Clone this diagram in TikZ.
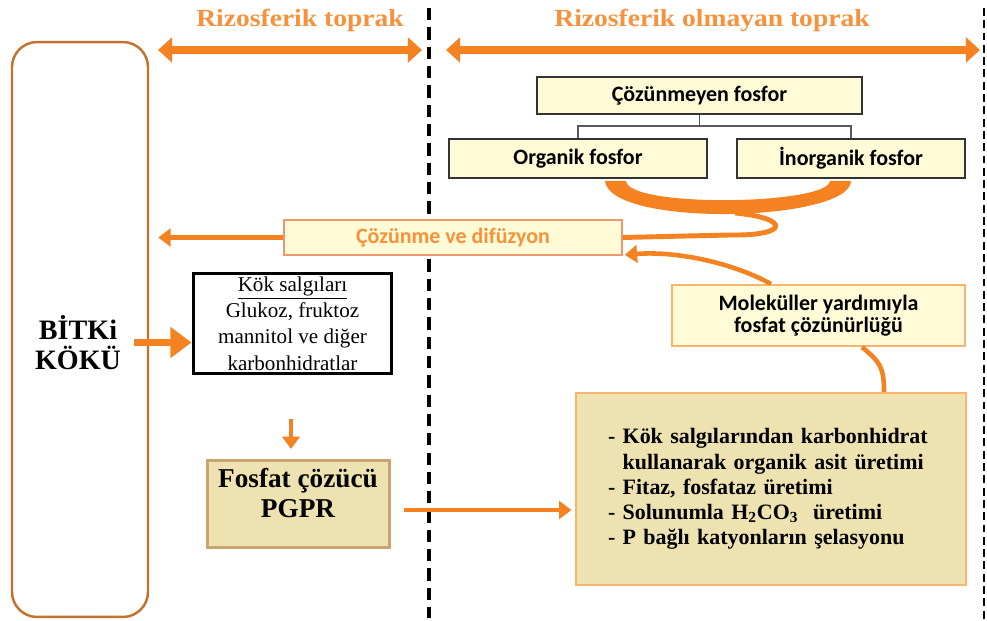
\documentclass[tikz,border=0pt]{standalone}
\usepackage{fontspec}
\usepackage{graphicx}
\setmainfont{Liberation Serif}
\newfontfamily\calib{Carlito}
\usetikzlibrary{arrows.meta,calc}

\definecolor{orng}{RGB}{245,130,32}
\definecolor{orngtxt}{RGB}{247,145,60}
\definecolor{paleyel}{RGB}{255,251,215}
\definecolor{khaki}{RGB}{238,226,176}
\definecolor{rootbr}{RGB}{196,114,44}
\definecolor{salmon}{RGB}{238,150,110}
\definecolor{lightor}{RGB}{250,180,110}
\definecolor{tanbr}{RGB}{200,165,110}

\tikzset{
	box/.style={draw, inner sep=0pt, align=center},
	fosbox/.style={box, draw=black!80, line width=1.1pt, fill=paleyel, font=\calib\bfseries\fontsize{12.5}{13}\selectfont},
	hdrtxt/.style={text=orngtxt, font=\bfseries\fontsize{14}{16}\selectfont, anchor=base},
	hdrarr/.style={orng, line width=5pt, {Triangle[length=8pt,width=14pt]}-{Triangle[length=8pt,width=14pt]}},
	midline/.style={line width=1.8pt, dash pattern=on 7pt off 4pt},
	edgeline/.style={line width=1.3pt, dash pattern=on 4.5pt off 2.5pt},
	orarr/.style={orng, line width=2.8pt, -{Triangle[length=7pt,width=10pt]}},
	bigarr/.style={orng, line width=4.5pt, -{Triangle[length=12pt,width=17pt]}}
}

\begin{document}
\begin{tikzpicture}[x=0.02cm, y=-0.02cm]
	\useasboundingbox (0,0) rectangle (987,621);

	\draw[midline] (429,8) -- (429,618);
	\draw[edgeline] (984,8) -- (984,621);

	\node[hdrtxt] (rizo) at (300,27) {\scalebox{1.12}[1]{Rizosferik toprak}};
	\node[hdrtxt] (nonrizo) at (712,27) {\scalebox{1.12}[1]{Rizosferik olmayan toprak}};
	\coordinate (rzL) at (158,50);
	\coordinate (rzR) at (422,50);
	\coordinate (nrL) at (446,50);
	\coordinate (nrR) at (980,50);
	\draw[hdrarr] (rzL) -- (rzR);
	\draw[hdrarr] (nrL) -- (nrR);

	% root side
	\node[box, draw=rootbr, line width=1.4pt, rounded corners=0.5cm, minimum width=2.72cm, minimum height=11.5cm] (root) at (80,329.5) {};
	\node[align=center, font=\bfseries\fontsize{16}{17}\selectfont] (rootlbl) at (78,343) {BİTKi\\KÖKÜ};

	\node[box, draw=black, line width=1.7pt, fill=white, minimum width=3.98cm, minimum height=2.02cm, font=\fontsize{12}{15}\selectfont] (kok) at (292.5,323.5)
		{\underline{Kök salgıları}\\Glukoz, fruktoz\\mannitol ve diğer\\karbonhidratlar};

	\node[box, draw=tanbr, line width=1.7pt, fill=khaki, minimum width=3.66cm, minimum height=1.76cm] (pgpr) at (298.5,504) {};
	\node[align=center, font=\bfseries\fontsize{15.5}{17}\selectfont] (pgprtxt) at (298,493) {Fosfat çözücü\\PGPR};

	% phosphorus side
	\node[fosbox, minimum width=6.5cm, minimum height=0.74cm] (cozunmeyen) at (699.5,95.5) {Çözünmeyen fosfor};
	\node[fosbox, minimum width=5.16cm, minimum height=0.78cm] (organik) at (578,158.5) {Organik fosfor};
	\node[fosbox, minimum width=4.56cm, minimum height=0.78cm] (inorganik) at (851,158.5) {İnorganik fosfor};

	\draw[black!65, line width=0.8pt] (cozunmeyen.south) -- ++(0,11) coordinate (fork);
	\draw[black!65, line width=0.8pt] (organik.north) |- (fork) -| (inorganik.north);

	\node[box, draw=salmon, line width=1pt, fill=paleyel, minimum width=6.76cm, minimum height=0.7cm, text=orngtxt, font=\calib\bfseries\fontsize{12.5}{13}\selectfont] (cozunme) at (453,237.5) {Çözünme ve difüzyon};

	\node[box, draw=lightor, line width=1.2pt, fill=paleyel, minimum width=5.86cm, minimum height=1.22cm, font=\calib\bfseries\fontsize{12.5}{12.5}\selectfont] (molek) at (818.5,315.5) {Moleküller yardımıyla\\fosfat çözünürlüğü};

	\node[box, draw=lightor, line width=1.2pt, fill=khaki, text width=6.52cm, inner xsep=0.64cm, minimum height=3.84cm, align=left, font=\bfseries\fontsize{12.5}{14.3}\selectfont] (big) at (771,489)
		{- Kök salgılarından karbonhidrat\\
		\hphantom{- }kullanarak organik asit üretimi\\
		- Fitaz, fosfataz üretimi\\
		- Solunumla H\textsubscript{2}CO\textsubscript{3}\ \ üretimi\\
		- P bağlı katyonların şelasyonu};

	% U shaped brace under the two phosphorus boxes
	\fill[orng] (605,181) .. controls (610,228) and (850,222) .. (851,181) -- (830,181) .. controls (828,205) and (628,208) .. (626,181) -- cycle;
	\draw[orng, line width=2.8pt] (735,213) .. controls (790,218) and (790,236) .. (730,235) -- (cozunme.east);

	\draw[orarr] (cozunme.west) -- ($(cozunme.west -| root.east)+(9,0)$);
	\draw[bigarr] ($(kok.west -| root.east)+(-15,19)$) -- ($(kok.west)+(0,19)$);
	\draw[orarr, line width=2.3pt, shorten <=25pt, shorten >=5.5pt] (kok.south -| 291,0) -- (pgpr.north -| 291,0);
	\draw[orarr, shorten <=7pt, shorten >=2pt] ($(pgpr.east)+(0,6)$) -- ($(pgpr.east -| big.west)+(0,6)$);

	\draw[orng, line width=2.6pt] ($(big.north east)+(-83,0)$) .. controls +(0,-25) and +(18,15) .. ($(molek.south west)+(191,0)$);
	\draw[orarr, line width=2.6pt] ($(molek.north west)+(100,0)$) .. controls +(-40,-22) and +(50,-4) .. ($(cozunme.south east)+(2,-1)$);

\end{tikzpicture}
\end{document}
